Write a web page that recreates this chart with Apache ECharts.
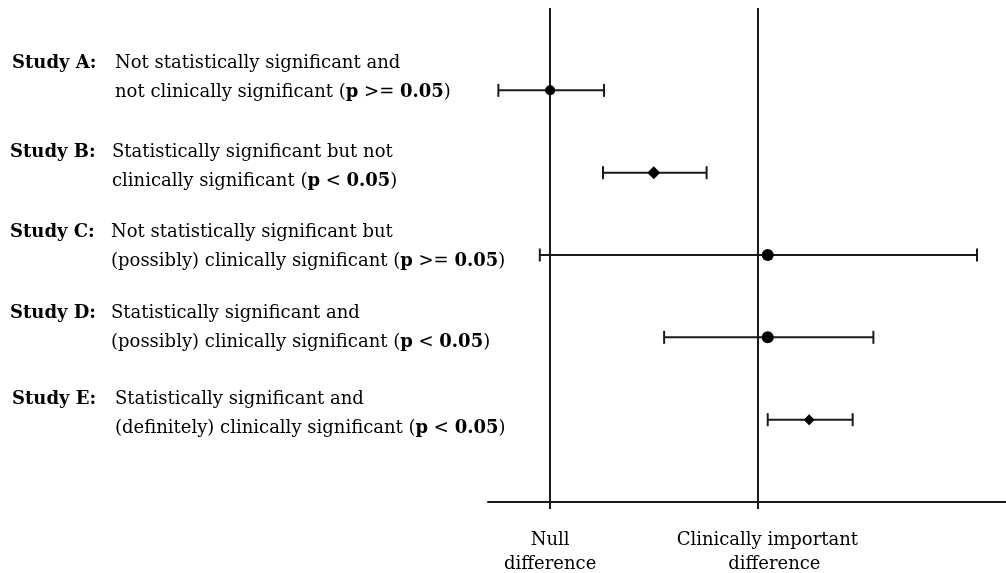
<!DOCTYPE html>
<html>
<head>
<meta charset="utf-8">
<script src="https://cdn.jsdelivr.net/npm/echarts@6/dist/echarts.min.js"></script>
<style>
html,body{margin:0;padding:0;background:#fff;}
#chart{width:1006px;height:573px;}
</style>
</head>
<body>
<div id="chart"></div>
<script>
// ---- data ----
var studies = ['Study A', 'Study B', 'Study C', 'Study D', 'Study E'];
var descLine1 = [
  'Not statistically significant and',
  'Statistically significant but not',
  'Not statistically significant but',
  'Statistically significant and',
  'Statistically significant and'
];
var descLine2 = [
  'not clinically significant',
  'clinically significant',
  '(possibly) clinically significant',
  '(possibly) clinically significant',
  '(definitely) clinically significant'
];
var pOperators = ['>=', '<', '>=', '<', '<'];
var pThreshold = '0.05';
var estimates = [0, 0.50, 1.05, 1.05, 1.25];
var lowerCI   = [-0.25, 0.255, -0.05, 0.55, 1.05];
var upperCI   = [0.26, 0.755, 2.06, 1.56, 1.46];
var referenceValues = [0, 1];
var referenceLabels = ['Null\ndifference', 'Clinically important\ndifference'];

// ---- layout / style ----
var FONT = '"DejaVu Serif", "Liberation Serif", serif';
var FS = 18;
var INK = '#1a1a1a';
var textCenters = [63, 152, 232, 313, 399]; // first-line vertical centres
var lineGap = 29;
var labelX = [12, 10, 10, 10, 12];
var descX = [115, 112, 111, 111, 115];
var markerSymbols = ['circle', 'diamond', 'circle', 'circle', 'diamond'];
var markerSizes = [10, 13, 12, 12, 11];

var chart = echarts.init(document.getElementById('chart'), null, {renderer: 'canvas'});

var errData = studies.map(function (s, i) { return [i, lowerCI[i], upperCI[i]]; });
var ptData = studies.map(function (s, i) { return [estimates[i], i]; });

var graphics = [];
studies.forEach(function (s, i) {
  graphics.push({
    type: 'text', x: labelX[i], y: textCenters[i],
    style: { text: s + ':', font: 'bold ' + FS + 'px ' + FONT, fill: '#000', verticalAlign: 'middle', align: 'left' }
  });
  graphics.push({
    type: 'text', x: descX[i], y: textCenters[i],
    style: { text: descLine1[i], font: FS + 'px ' + FONT, fill: '#000', verticalAlign: 'middle', align: 'left' }
  });
  graphics.push({
    type: 'text', x: descX[i], y: textCenters[i] + lineGap,
    style: {
      text: '{n|' + descLine2[i] + ' (}{b|p}{n| ' + pOperators[i] + ' }{b|' + pThreshold + '}{n|)}',
      verticalAlign: 'middle', align: 'left',
      rich: {
        n: { fontFamily: FONT, fontSize: FS, fill: '#000' },
        b: { fontFamily: FONT, fontSize: FS, fontWeight: 'bold', fill: '#000' }
      }
    }
  });
});

var option = {
  backgroundColor: '#fff',
  animation: false,
  grid: { left: 488, right: 0, top: 8, bottom: 71, containLabel: false, outerBoundsMode: 'none' },
  xAxis: {
    type: 'value', min: -0.3, max: 2.2, position: 'bottom',
    splitLine: { show: false },
    axisLine: { show: true, onZero: false, lineStyle: { color: INK, width: 2 } },
    axisTick: { show: true, customValues: referenceValues, length: 7, lineStyle: { color: INK, width: 2 } },
    axisLabel: {
      show: true, customValues: referenceValues, margin: 26,
      fontFamily: FONT, fontSize: FS, color: '#000', lineHeight: 24,
      formatter: function (v) {
        var idx = referenceValues.indexOf(v);
        if (idx === 1) {
          var parts = referenceLabels[1].split('\n');
          return '{c1|' + parts[0] + '}\n{c2|' + parts[1] + '}';
        }
        return idx >= 0 ? referenceLabels[idx] : '';
      },
      rich: {
        c1: { fontFamily: FONT, fontSize: FS, color: '#000', padding: [0, 0, 0, 20], lineHeight: 24 },
        c2: { fontFamily: FONT, fontSize: FS, color: '#000', padding: [0, 0, 0, 34], lineHeight: 24 }
      }
    }
  },
  yAxis: { type: 'value', min: -1, max: 5, inverse: true, show: false },
  graphic: graphics,
  series: [
    {
      type: 'custom',
      data: errData,
      encode: { x: [1, 2], y: 0 },
      renderItem: function (params, api) {
        var y = api.value(0);
        var p1 = api.coord([api.value(1), y]);
        var p2 = api.coord([api.value(2), y]);
        var h = 6.5;
        var st = { stroke: INK, lineWidth: 2 };
        return {
          type: 'group',
          children: [
            { type: 'line', shape: { x1: p1[0], y1: p1[1], x2: p2[0], y2: p2[1] }, style: st },
            { type: 'line', shape: { x1: p1[0], y1: p1[1] - h, x2: p1[0], y2: p1[1] + h }, style: st },
            { type: 'line', shape: { x1: p2[0], y1: p2[1] - h, x2: p2[0], y2: p2[1] + h }, style: st }
          ]
        };
      },
      markLine: {
        silent: true, symbol: 'none', label: { show: false },
        lineStyle: { color: INK, width: 2, type: 'solid' },
        data: referenceValues.map(function (v) { return [{ coord: [v, -1] }, { coord: [v, 5] }]; })
      },
      z: 2
    },
    {
      type: 'scatter',
      data: ptData,
      symbol: function (val, params) { return markerSymbols[params.dataIndex]; },
      symbolSize: function (val, params) { return markerSizes[params.dataIndex]; },
      itemStyle: { color: '#000', opacity: 1 },
      z: 5
    }
  ]
};
chart.setOption(option);
</script>
</body>
</html>
